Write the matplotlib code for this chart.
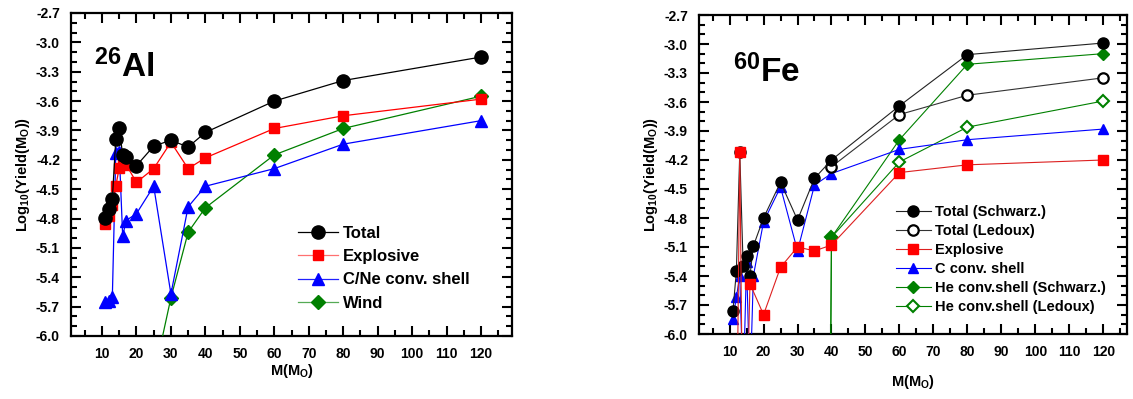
import matplotlib
matplotlib.use("Agg")
import matplotlib.pyplot as plt
from matplotlib.ticker import MultipleLocator
import numpy as np

plt.rcParams['font.family'] = ['Liberation Sans', 'DejaVu Sans']
plt.rcParams['font.weight'] = 'bold'
plt.rcParams['mathtext.fontset'] = 'custom'
plt.rcParams['mathtext.bf'] = 'Liberation Sans:bold'
plt.rcParams['mathtext.rm'] = 'Liberation Sans'
plt.rcParams['mathtext.it'] = 'Liberation Sans:italic'

# ---------------- 26Al data ----------------
al_mass = [11, 12, 13, 14, 15, 16, 17, 20, 25, 30, 35, 40, 60, 80, 120]
al_total = [-4.79, -4.70, -4.60, -3.99, -3.88, -4.15, -4.17, -4.26, -4.06, -4.00, -4.07, -3.92, -3.60, -3.39, -3.15]
al_expl = [-4.86, -4.77, -4.66, -4.47, -4.28, -4.23, -4.25, -4.43, -4.29, -4.02, -4.29, -4.18, -3.88, -3.75, -3.58]
al_cne = [-5.65, -5.64, -5.60, -4.13, -4.12, -4.98, -4.82, -4.75, -4.47, -5.57, -4.68, -4.47, -4.29, -4.04, -3.80]
al_wind_mass = [25, 30, 35, 40, 60, 80, 120]
al_wind = [-6.42, -5.61, -4.94, -4.69, -4.15, -3.88, -3.55]

# ---------------- 60Fe data ----------------
fe_mass = [11, 12, 13, 14, 15, 16, 17, 20, 25, 30, 35, 40, 60, 80, 120]
fe_tot_s = [-5.76, -5.35, -4.12, -5.30, -5.19, -5.40, -5.09, -4.80, -4.43, -4.82, -4.39, -4.20, -3.64, -3.11, -2.99]
fe_tot_l_mass = [40, 60, 80, 120]
fe_tot_l = [-4.27, -3.73, -3.53, -3.35]
fe_expl_mass = [12, 13, 14, 15, 16, 20, 25, 30, 35, 40, 60, 80, 120]
fe_expl = [-7.5, -4.12, -7.5, -7.0, -5.48, -5.80, -5.31, -5.10, -5.14, -5.08, -4.33, -4.25, -4.20]
fe_cshell = [-5.84, -5.62, -5.40, -6.6, -5.25, -6.6, -5.40, -4.84, -4.48, -5.14, -4.46, -4.34, -4.09, -3.99, -3.88]
fe_he_mass = [35, 40, 60, 80, 120]
fe_he_s = [-30.0, -5.00, -3.99, -3.21, -3.10]
fe_he_l = [-30.0, -5.00, -4.22, -3.86, -3.59]

W, H = 1133, 399
fig = plt.figure(figsize=(W / 100, H / 100), dpi=100)

ax1 = fig.add_axes([71 / W, 1 - 336 / H, (512 - 71) / W, (336 - 13) / H])
ax2 = fig.add_axes([699 / W, 1 - 334 / H, (1127 - 699) / W, (334 - 15) / H])


def style_axes(ax, xlim):
    ax.set_xlim(*xlim)
    ax.set_ylim(-6.0, -2.7)
    ax.xaxis.set_major_locator(MultipleLocator(10))
    ax.xaxis.set_minor_locator(MultipleLocator(5))
    ax.yaxis.set_major_locator(MultipleLocator(0.3))
    ax.yaxis.set_minor_locator(MultipleLocator(0.1))
    ax.set_xticks(np.arange(10, 130, 10))
    ax.tick_params(which='both', direction='in', top=True, right=True, width=1.5)
    ax.tick_params(which='major', length=7, labelsize=10, pad=8)
    ax.tick_params(which='minor', length=4)
    for lab in ax.get_xticklabels() + ax.get_yticklabels():
        lab.set_fontweight('bold')
    ax.yaxis.set_major_formatter(matplotlib.ticker.FormatStrFormatter('%.1f'))
    for s in ax.spines.values():
        s.set_linewidth(1.6)


style_axes(ax1, (1, 129))
style_axes(ax2, (1, 127))

# ---- left panel ----
ax1.plot(al_wind_mass, al_wind, '-', color='green', lw=0.9, marker='D', ms=7.5,
         mfc='green', mec='green', label='Wind', zorder=3)
ax1.plot(al_mass, al_cne, '-', color='blue', lw=0.9, marker='^', ms=9,
         mfc='blue', mec='blue', label='C/Ne conv. shell', zorder=4)
ax1.plot(al_mass, al_expl, '-', color='red', lw=0.9, marker='s', ms=7,
         mfc='red', mec='red', label='Explosive', zorder=5)
ax1.plot(al_mass, al_total, '-', color='black', lw=0.9, marker='o', ms=9.5,
         mfc='black', mec='black', label='Total', zorder=6)

h, l = ax1.get_legend_handles_labels()
order = [3, 2, 1, 0]
leg1 = ax1.legend([h[i] for i in order], [l[i] for i in order], loc='lower left',
                  bbox_to_anchor=(0.515, 0.078), frameon=False, fontsize=12,
                  handlelength=2.4, handletextpad=0.3, labelspacing=0.5,
                  borderpad=0, borderaxespad=0)
for t in leg1.get_texts():
    t.set_fontweight('bold')
light = ['black', '#ff7070', '#2020ff', '#55aa55']
for ln, c in zip(leg1.get_lines(), light):
    ln.set_color(c)

ax1.text(0.053, 0.80, r'$\mathbf{^{26}Al}$', transform=ax1.transAxes,
         fontsize=24, va='baseline', ha='left')
ax1.set_ylabel(r'$\mathbf{Log_{10}(Yield(M_{O}))}$', fontsize=10.5, labelpad=3)
ax1.set_xlabel(r'$\mathbf{M(M_{O})}$', fontsize=10.5, labelpad=1)

# ---- right panel ----
ax2.plot(fe_he_mass, fe_he_l, '-', color='green', lw=0.8, marker='D', ms=6.5,
         mfc='white', mec='green', mew=1.5, label='He conv.shell (Ledoux)', zorder=3)
ax2.plot(fe_he_mass, fe_he_s, '-', color='green', lw=0.8, marker='D', ms=6.5,
         mfc='green', mec='green', label='He conv.shell (Schwarz.)', zorder=3)
ax2.plot(fe_mass, fe_cshell, '-', color='blue', lw=0.8, marker='^', ms=7.5,
         mfc='blue', mec='blue', label='C conv. shell', zorder=4)
ax2.plot(fe_tot_l_mass, fe_tot_l, '-', color='#333333', lw=0.8, marker='o', ms=7.5,
         mfc='white', mec='black', mew=1.6, label='Total (Ledoux)', zorder=5)
ax2.plot(fe_mass, fe_tot_s, '-', color='#222222', lw=0.8, marker='o', ms=8,
         mfc='black', mec='black', label='Total (Schwarz.)', zorder=5)
ax2.plot(fe_expl_mass, fe_expl, '-', color='#dd2020', lw=0.8, marker='s', ms=6.5,
         mfc='red', mec='red', label='Explosive', zorder=6)

h, l = ax2.get_legend_handles_labels()
order = [4, 3, 5, 2, 1, 0]
leg2 = ax2.legend([h[i] for i in order], [l[i] for i in order], loc='lower left',
                  bbox_to_anchor=(0.46, 0.063), frameon=False, fontsize=10.5,
                  handlelength=2.4, handletextpad=0.3, labelspacing=0.34,
                  borderpad=0, borderaxespad=0)
for t in leg2.get_texts():
    t.set_fontweight('bold')

ax2.text(0.079, 0.79, r'$\mathbf{^{60}Fe}$', transform=ax2.transAxes,
         fontsize=24, va='baseline', ha='left')
ax2.set_ylabel(r'$\mathbf{Log_{10}(Yield(M_{O}))}$', fontsize=10.5, labelpad=3)
ax2.set_xlabel(r'$\mathbf{M(M_{O})}$', fontsize=10.5, labelpad=10)

fig.savefig('out.png', dpi=100)
